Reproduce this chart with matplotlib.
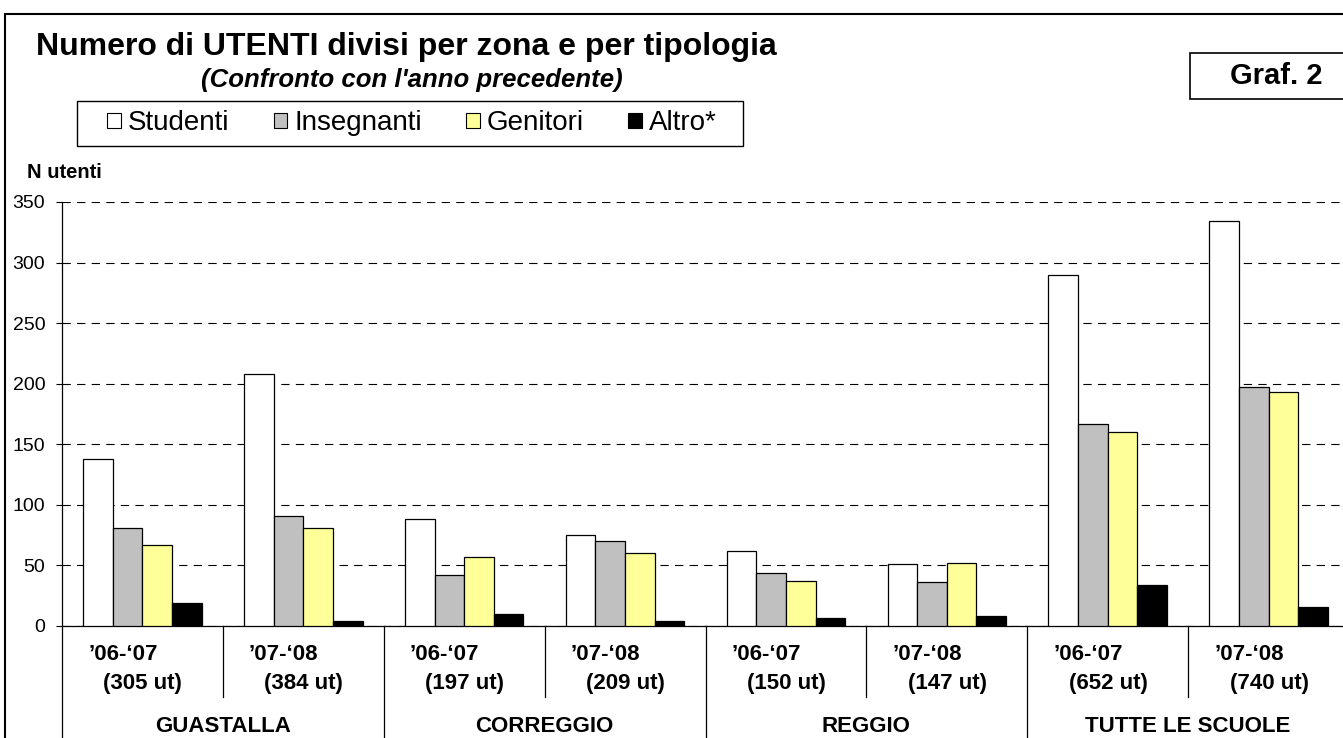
import numpy as np
import matplotlib
matplotlib.use('Agg')
import matplotlib.pyplot as plt
from matplotlib.patches import Patch, Rectangle

plt.rcParams['font.family'] = ['Liberation Sans', 'DejaVu Sans']
plt.rcParams['lines.scale_dashes'] = False

# data
zone = ['GUASTALLA', 'CORREGGIO', 'REGGIO', 'TUTTE LE SCUOLE']
anni = ['\u201906-\u201807', '\u201907-\u201808']
totali = ['(305 ut)', '(384 ut)', '(197 ut)', '(209 ut)',
          '(150 ut)', '(147 ut)', '(652 ut)', '(740 ut)']
studenti = [138, 208, 88, 75, 62, 51, 290, 334]
insegnanti = [81, 91, 42, 70, 44, 36, 167, 197]
genitori = [67, 81, 57, 60, 37, 52, 160, 193]
altro = [19, 4, 10, 4, 7, 8, 34, 16]

serie = [studenti, insegnanti, genitori, altro]
nomi = ['Studenti', 'Insegnanti', 'Genitori', 'Altro*']
colori = ['#FFFFFF', '#C0C0C0', '#FFFF99', '#000000']

W, H = 1343, 738
def fx(px):
    return px / W
def fy(py):
    return 1 - py / H

fig = plt.figure(figsize=(W / 100, H / 100), dpi=100)

# plot area (right side runs a little past the image edge)
ax = fig.add_axes([fx(62), fy(626), fx(1349) - fx(62), fy(202) - fy(626)])

x = np.arange(len(studenti))
bw = 0.184
for i, (vals, nome, col) in enumerate(zip(serie, nomi, colori)):
    ax.bar(x + (i - 1.5) * bw, vals, width=bw, color=col,
           edgecolor='black', linewidth=0.9, label=nome, zorder=3)

ax.set_xlim(-0.5, len(studenti) - 0.5)
ax.set_ylim(0, 350)
ax.set_yticks(np.arange(0, 351, 50))
ax.yaxis.grid(True, linestyle=(0, (6, 4.5)), color='black', linewidth=0.8)
ax.set_axisbelow(True)
ax.set_xticks([])
ax.tick_params(axis='y', direction='out', length=4, width=0.8,
               labelsize=14, pad=8)
for s in ['top', 'right']:
    ax.spines[s].set_visible(False)
ax.spines['left'].set_linewidth(0.9)
ax.spines['bottom'].set_linewidth(0.9)

# category labels and separators below the axis
tr = ax.get_xaxis_transform()
def ay(py):
    return -(py - 626) / (626 - 202)

for k in range(len(studenti)):
    xl = k - 0.5
    if k % 2 == 0:
        ax.plot([xl, xl], [0, ay(760)], color='black', lw=0.9,
                transform=tr, clip_on=False)
    else:
        ax.plot([xl, xl], [0, ay(697)], color='black', lw=0.9,
                transform=tr, clip_on=False)
    ax.text(k - 0.122, ay(655), anni[k % 2], transform=tr, ha='center',
            va='center', fontsize=16, fontweight='bold')
    ax.text(k + 0.003, ay(684), totali[k], transform=tr, ha='center',
            va='center', fontsize=16, fontweight='bold')

for j, z in enumerate(zone):
    ax.text(2 * j + 0.5, ay(727), z, transform=tr, ha='center',
            va='center', fontsize=16, fontweight='bold')

# titles
fig.text(fx(36), fy(47), 'Numero di UTENTI divisi per zona e per tipologia',
         ha='left', va='center', fontsize=23, fontweight='bold')
fig.text(fx(412), fy(80), "(Confronto con l'anno precedente)",
         ha='center', va='center', fontsize=18.5, fontweight='bold',
         style='italic')
fig.text(fx(27), fy(172), 'N utenti', ha='left', va='center',
         fontsize=14.5, fontweight='bold')

# legend: box drawn separately, entries from the legend
fig.patches.append(Rectangle((fx(77), fy(146)), fx(743) - fx(77),
                             fy(101) - fy(146), transform=fig.transFigure,
                             facecolor='white', edgecolor='black', lw=1.0))
handles = [Patch(facecolor=c, edgecolor='black', linewidth=0.8) for c in colori]
leg = fig.legend(handles, nomi, ncol=4, loc='center',
                 bbox_to_anchor=(fx(412), fy(123.5)), frameon=False,
                 fontsize=20, handlelength=0.49, handleheight=0.49,
                 handletextpad=0.25, columnspacing=1.6, borderpad=0.2)

# "Graf. 2" box
fig.patches.append(Rectangle((fx(1190), fy(99)), fx(1400) - fx(1190),
                             fy(53) - fy(99), transform=fig.transFigure,
                             facecolor='white', edgecolor='black', lw=1.2))
fig.text(fx(1276), fy(76), 'Graf. 2', ha='center', va='center',
         fontsize=21, fontweight='bold')

# outer frame
fig.patches.append(Rectangle((fx(5), fy(800)), fx(1400) - fx(5),
                             fy(14) - fy(800), transform=fig.transFigure,
                             facecolor='none', edgecolor='black', lw=1.5))

fig.savefig('out.png', dpi=100)
